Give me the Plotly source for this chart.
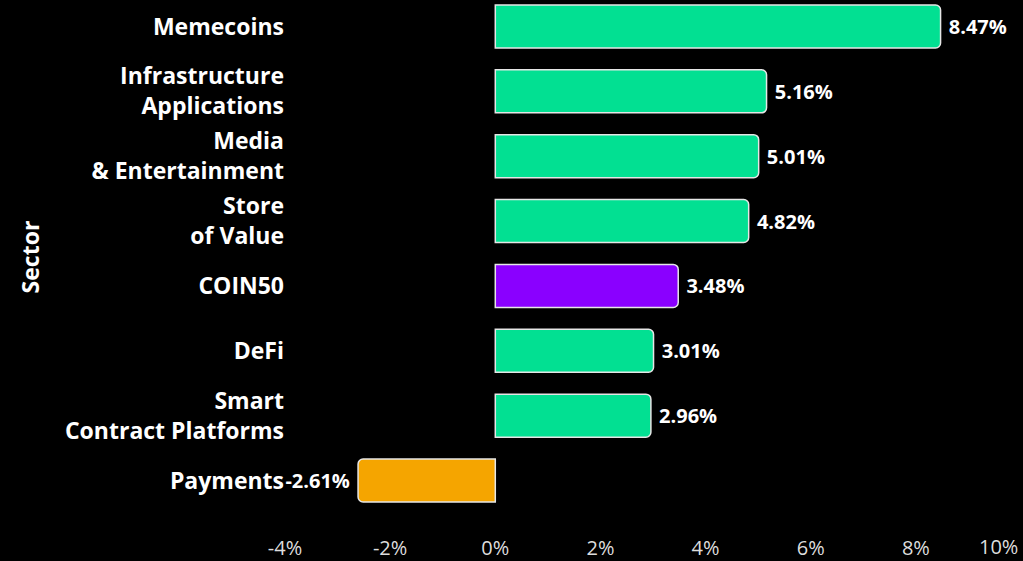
import plotly.graph_objects as go

sectors = ["Payments", "Smart<br>Contract Platforms", "DeFi", "COIN50", "Store<br>of Value",
           "Media<br>& Entertainment", "Infrastructure<br>Applications", "Memecoins"]
returns = [-2.61, 2.96, 3.01, 3.48, 4.82, 5.01, 5.16, 8.47]
tick_vals = [-4, -2, 0, 2, 4, 6, 8, 10]
tick_text = ["-4%", "-2%", "0%", "2%", "4%", "6%", "8%", "10%"]

GREEN = "#02E092"
PURPLE = "#8A00FF"
ORANGE = "#F5A500"
FONT = "Open Sans"
colors = [PURPLE if s == "COIN50" else (ORANGE if v < 0 else GREEN) for s, v in zip(sectors, returns)]
templates = ["%{x:.2f}% " if v < 0 else " %{x:.2f}%" for v in returns]

fig = go.Figure(go.Bar(
    x=returns, y=sectors, orientation="h",
    marker=dict(color=colors, line=dict(color="#E6E6E6", width=1.5), cornerradius=5),
    texttemplate=templates, textposition="outside", constraintext="none",
    textfont=dict(family=FONT, size=20, color="white", weight="bold"),
    cliponaxis=False,
))

# last tick label would overflow the page edge; draw it right-aligned at the edge
fig.add_annotation(x=1, xref="paper", xanchor="right", xshift=-1, y=0, yref="paper", yanchor="middle",
                   yshift=-32, text=tick_text[-1], showarrow=False,
                   font=dict(family=FONT, size=20, color="#DDDDDD"))

fig.update_layout(
    width=1023, height=561,
    paper_bgcolor="black", plot_bgcolor="black",
    margin=dict(l=285, r=1.5, t=0, b=47),
    bargap=0.337,
    font=dict(family=FONT, color="white"),
    showlegend=False,
    xaxis=dict(range=[-4, 10], tickvals=tick_vals[:-1], ticktext=tick_text[:-1], showgrid=False,
               zeroline=False, showline=False, ticks="", ticklabelstandoff=20, automargin=False,
               tickfont=dict(family=FONT, size=20, color="#DDDDDD")),
    yaxis=dict(categoryorder="array", categoryarray=sectors, range=[-0.5165, 7.408],
               showgrid=False, zeroline=False, ticks="", automargin=False,
               tickfont=dict(family=FONT, size=23, color="white", weight="bold"),
               title=dict(text="Sector", font=dict(family=FONT, size=23, color="white", weight="bold"),
                          standoff=18)),
)

fig.write_html("out.html")
